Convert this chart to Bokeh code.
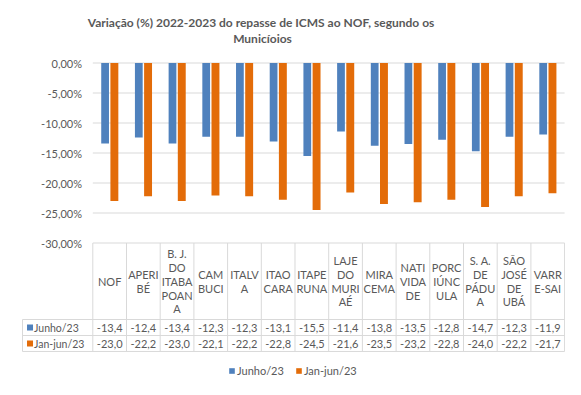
from bokeh.plotting import figure
from bokeh.models import Range1d, Legend, LegendItem
from bokeh.core.properties import value
from bokeh.embed import file_html
from bokeh.resources import INLINE

# ---------------- data ----------------
categories = ["NOF", "APERIBÉ", "B. J. DO ITABAPOANA", "CAMBUCI", "ITALVA", "ITAOCARA",
              "ITAPERUNA", "LAJE DO MURIAÉ", "MIRACEMA", "NATIVIDADE", "PORCIÚNCULA",
              "S. A. DE PÁDUA", "SÃO JOSÉ DE UBÁ", "VARRE-SAI"]
header_labels = ["NOF", "APERI\nBÉ", "B. J.\nDO\nITABA\nPOAN\nA", "CAM\nBUCI", "ITALV\nA",
                 "ITAO\nCARA", "ITAPE\nRUNA", "LAJE\nDO\nMURI\nAÉ", "MIRA\nCEMA",
                 "NATI\nVIDA\nDE", "PORC\nIÚNC\nULA", "S. A.\nDE\nPÁDU\nA",
                 "SÃO\nJOSÉ\nDE\nUBÁ", "VARR\nE-SAI"]
junho = [-13.4, -12.4, -13.4, -12.3, -12.3, -13.1, -15.5, -11.4, -13.8, -13.5, -12.8, -14.7, -12.3, -11.9]
janjun = [-23.0, -22.2, -23.0, -22.1, -22.2, -22.8, -24.5, -21.6, -23.5, -23.2, -22.8, -24.0, -22.2, -21.7]
series_names = ["Junho/23", "Jan-jun/23"]
y_ticks = [0, -5, -10, -15, -20, -25, -30]
y_tick_labels = ["0,00%", "-5,00%", "-10,00%", "-15,00%", "-20,00%", "-25,00%", "-30,00%"]
title_text = "Variação (%) 2022-2023  do repasse de ICMS ao NOF, segundo os\nMunicíoios"

# ---------------- style ----------------
FONT = "Lato"
TXT = "#595959"
GRID = "#d9d9d9"
BLUE = "#4F81BD"
ORANGE = "#E36C09"

n = len(categories)
centers = [i + 0.5 for i in range(n)]

p = figure(width=565, height=379,
           x_range=Range1d(-2.739, 14.027), y_range=Range1d(-52.75, 10.417),
           x_axis_type=None, y_axis_type=None,
           toolbar_location=None, output_backend="svg",
           min_border=0, min_border_left=0, min_border_right=0,
           min_border_top=0, min_border_bottom=0)
p.outline_line_color = None
p.background_fill_color = "white"
p.border_fill_color = "white"

# title
p.text(x=[5.036], y=[5.417], text=[title_text], text_align="center", text_baseline="middle",
       text_font=value(FONT), text_font_size="12px", text_font_style="bold",
       text_color=TXT, text_line_height=1.06)

# gridlines
p.segment(x0=[0] * len(y_ticks), y0=y_ticks, x1=[n] * len(y_ticks), y1=y_ticks,
          line_color=GRID, line_width=1)

# y tick labels
p.text(x=[-0.320] * len(y_ticks), y=y_ticks, text=y_tick_labels, text_align="right",
       text_baseline="middle", text_font=value(FONT), text_font_size="11px", text_color=TXT)

# bars
r1 = p.vbar(x=[c - 0.135 for c in centers], top=junho, bottom=0, width=0.23,
            fill_color=BLUE, line_color=None)
r2 = p.vbar(x=[c + 0.14 for c in centers], top=janjun, bottom=0, width=0.235,
            fill_color=ORANGE, line_color=None)

# data table
row_top = -42.75
row_mid = -45.42
row_bot = -48.08
left_col = -2.086
p.segment(x0=list(range(n + 1)), y0=[-30] * (n + 1), x1=list(range(n + 1)), y1=[row_bot] * (n + 1),
          line_color=GRID, line_width=1)
p.segment(x0=[left_col], y0=[row_top], x1=[left_col], y1=[row_bot], line_color=GRID, line_width=1)
p.segment(x0=[left_col] * 3, y0=[row_top, row_mid, row_bot], x1=[n] * 3,
          y1=[row_top, row_mid, row_bot], line_color=GRID, line_width=1)

p.text(x=centers, y=[(-30 + row_top) / 2] * n, text=header_labels, text_align="center",
       text_baseline="middle", text_font=value(FONT), text_font_size="11px",
       text_color=TXT, text_line_height=1.06)

r1y = (row_top + row_mid) / 2
r2y = (row_mid + row_bot) / 2
fmt = lambda v: f"{v:.1f}".replace(".", ",")
p.text(x=centers, y=[r1y] * n, text=[fmt(v) for v in junho], text_align="center",
       text_baseline="middle", text_font=value(FONT), text_font_size="11px", text_color=TXT)
p.text(x=centers, y=[r2y] * n, text=[fmt(v) for v in janjun], text_align="center",
       text_baseline="middle", text_font=value(FONT), text_font_size="11px", text_color=TXT)

p.scatter(x=[-1.863, -1.863], y=[r1y, r2y], marker="square", size=6,
          fill_color=[BLUE, ORANGE], line_color=None)
p.text(x=[-1.745, -1.745], y=[r1y, r2y], text=series_names, text_align="left",
       text_baseline="middle", text_font=value(FONT), text_font_size="10.5px", text_color=TXT)

# legend
legend = Legend(items=[LegendItem(label=series_names[0], renderers=[r1]),
                       LegendItem(label=series_names[1], renderers=[r2])],
                location=(228, 2), orientation="horizontal",
                glyph_width=7, glyph_height=7, label_standoff=2, spacing=11,
                padding=0, margin=0, border_line_color=None, background_fill_alpha=0,
                label_height=12, label_text_font=FONT, label_text_font_size="11px",
                label_text_color=TXT)
p.add_layout(legend)

open("out.html", "w").write(file_html(p, INLINE))
